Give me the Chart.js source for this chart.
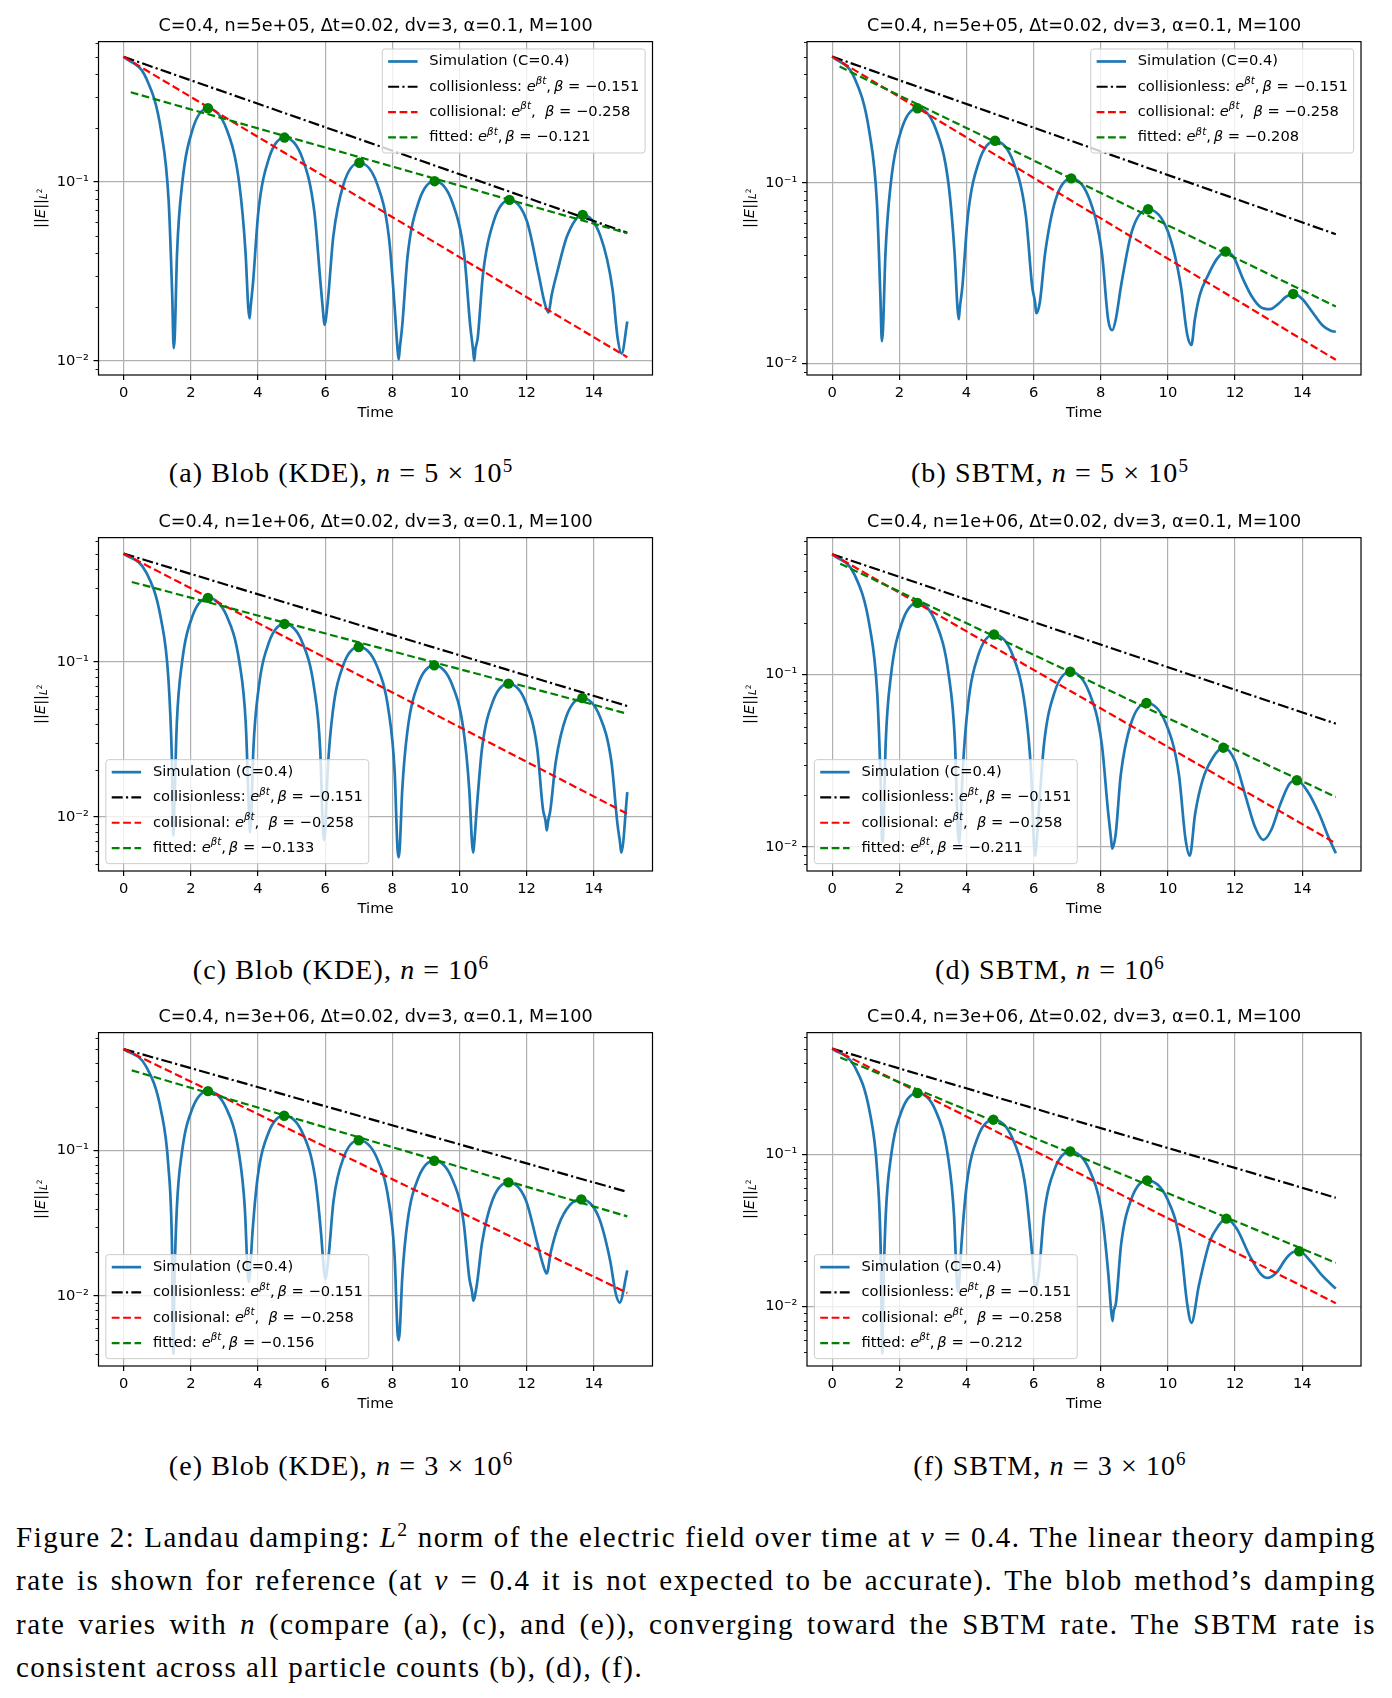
<!DOCTYPE html>
<html>
<head>
<meta charset="utf-8">
<title>Landau damping: L2 norm of E</title>
<script src="https://cdn.jsdelivr.net/npm/chart.js@4.4.1/dist/chart.umd.min.js"></script>
<style>
  html, body { margin: 0; padding: 0; background: #fff; }
  body { position: relative; width: 1392px; height: 1698px; overflow: hidden; }
  .panel { position: absolute; }
  .sub {
    position: absolute; transform: translate(-50%, -50%); white-space: nowrap;
    font-family: "Liberation Serif", "DejaVu Serif", serif; font-size: 28px; letter-spacing: 1.1px; color: #000;
  }
  .sub sup, #figcap sup { font-size: 68%; line-height: 0; }
  #figcap {
    position: absolute; left: 16px; top: 1516px; width: 1360px;
    font-family: "Liberation Serif", "DejaVu Serif", serif; font-size: 29px; line-height: 43.4px;
    letter-spacing: 1.5px; color: #000;
  }
  #figcap .jl { text-align: justify; text-align-last: justify; }
</style>
</head>
<body>

<div class="panel" style="left:0;top:0"><canvas id="chartA" width="696" height="440"></canvas></div>
<div class="panel" style="left:700px;top:0"><canvas id="chartB" width="692" height="440"></canvas></div>
<div class="panel" style="left:0;top:496px"><canvas id="chartC" width="696" height="440"></canvas></div>
<div class="panel" style="left:700px;top:496px"><canvas id="chartD" width="692" height="440"></canvas></div>
<div class="panel" style="left:0;top:991px"><canvas id="chartE" width="696" height="440"></canvas></div>
<div class="panel" style="left:700px;top:991px"><canvas id="chartF" width="692" height="440"></canvas></div>

<div class="sub" style="left:341px;top:473px">(a) Blob (KDE), <i>n</i> = 5 × 10<sup>5</sup></div>
<div class="sub" style="left:1050px;top:473px">(b) SBTM, <i>n</i> = 5 × 10<sup>5</sup></div>
<div class="sub" style="left:341px;top:970px">(c) Blob (KDE), <i>n</i> = 10<sup>6</sup></div>
<div class="sub" style="left:1050px;top:970px">(d) SBTM, <i>n</i> = 10<sup>6</sup></div>
<div class="sub" style="left:341px;top:1466px">(e) Blob (KDE), <i>n</i> = 3 × 10<sup>6</sup></div>
<div class="sub" style="left:1050px;top:1466px">(f) SBTM, <i>n</i> = 3 × 10<sup>6</sup></div>

<div id="figcap">
  <div class="jl">Figure 2: Landau damping: <i>L</i><sup>2</sup> norm of the electric field over time at <i>ν</i> = 0.4. The linear theory damping</div>
  <div class="jl">rate is shown for reference (at <i>ν</i> = 0.4 it is not expected to be accurate). The blob method’s damping</div>
  <div class="jl">rate varies with <i>n</i> (compare (a), (c), and (e)), converging toward the SBTM rate. The SBTM rate is</div>
  <div>consistent across all particle counts (b), (d), (f).</div>
</div>

<script>
// ---- data ----
const xTicks = [0, 2, 4, 6, 8, 10, 12, 14];
const yMajorTicks = [0.01, 0.1];
const yMinorTicks = [0.003, 0.004, 0.005, 0.006, 0.007, 0.008, 0.009,
  0.02, 0.03, 0.04, 0.05, 0.06, 0.07, 0.08, 0.09, 0.2, 0.3, 0.4, 0.5, 0.6];

// theory lines, same in every panel
const theoryT = [0, 15];
const collisionlessV = [0.5, 0.052];
const collisionalV = [0.5, 0.0105];

const titleN = ['5e+05', '5e+05', '1e+06', '1e+06', '3e+06', '3e+06'];
const fittedBeta = ['−0.121', '−0.208', '−0.133', '−0.211', '−0.156', '−0.212'];
const yMin = [0.00835, 0.00865, 0.00449, 0.00726, 0.0033, 0.00405];
const yMax = [0.608, 0.605, 0.634, 0.624, 0.649, 0.637];

// (a) blob, n=5e5
const simT_a = [0, 0.67, 1.12, 1.34, 1.445, 1.49,
  1.52, 1.59, 1.745, 2.05, 2.51, 3.07, 3.44, 3.63, 3.71, 3.75,
  3.78, 3.854, 4.01, 4.32, 4.79, 5.33, 5.68, 5.86, 5.944, 5.98,
  6.084, 6.24, 6.55, 7.02, 7.55, 7.90, 8.07, 8.155, 8.19,
  8.222, 8.297, 8.457, 8.78, 9.26, 9.79, 10.145, 10.32, 10.405, 10.44,
  10.475, 10.545, 10.70, 11.02, 11.49, 12.01, 12.36, 12.53, 12.65,
  12.75, 12.905, 13.21, 13.67, 14.2, 14.56, 14.71, 14.83, 15.0];
const simV_a = [0.5, 0.38, 0.19, 0.078, 0.0235, 0.0118,
  0.0136, 0.0402, 0.0988, 0.196, 0.258, 0.196, 0.0988, 0.0402, 0.0199, 0.0173,
  0.0199, 0.0276, 0.0678, 0.1345, 0.177, 0.1345, 0.0678, 0.0276, 0.0183, 0.0159,
  0.022, 0.049, 0.0973, 0.128, 0.0973, 0.049, 0.020, 0.0117, 0.0102,
  0.0117, 0.0158, 0.0387, 0.0768, 0.101, 0.0768, 0.0387, 0.0158, 0.0116, 0.01005,
  0.0116, 0.0135, 0.0304, 0.0603, 0.0794, 0.0603, 0.0304, 0.0214, 0.0186,
  0.0235, 0.031, 0.05, 0.0655, 0.0498, 0.0251, 0.0135, 0.011, 0.0166];
const peakT_a = [2.51, 4.79, 7.02, 9.26, 11.49, 13.67];
const peakV_a = [0.258, 0.177, 0.128, 0.101, 0.0794, 0.0655];
const fitT_a = [0.21, 15];
const fitV_a = [0.317, 0.0517];

// (b) SBTM, n=5e5
const simT_b = [0, 0.666, 1.11, 1.332, 1.436, 1.48,
  1.512, 1.586, 1.745, 2.063, 2.54, 3.094, 3.463, 3.647, 3.733, 3.77,
  3.80, 3.878, 4.04, 4.364, 4.85, 5.40, 5.77, 5.957, 6.043, 6.08,
  6.184, 6.34, 6.652, 7.12, 7.669, 8.035, 8.218, 8.34,
  8.447, 8.61, 8.93, 9.41, 9.99, 10.378, 10.571, 10.70,
  10.80, 10.95, 11.2, 11.46, 11.72, 11.95, 12.25, 12.5, 12.75, 13.04, 13.3, 13.5, 13.73, 14.0, 14.3, 14.6, 14.85, 15.0];
const simV_b = [0.5, 0.38, 0.19, 0.078, 0.0235, 0.0133,
  0.0153, 0.0404, 0.0992, 0.197, 0.259, 0.197, 0.0992, 0.0404, 0.0202, 0.0176,
  0.0202, 0.0267, 0.0655, 0.130, 0.171, 0.130, 0.0655, 0.0267, 0.0218, 0.019,
  0.0218, 0.0406, 0.0806, 0.106, 0.0806, 0.0406, 0.0176, 0.0153,
  0.0176, 0.0274, 0.0543, 0.0715, 0.0543, 0.0274, 0.0146, 0.0127,
  0.0175, 0.024, 0.031, 0.038, 0.0417, 0.039, 0.029, 0.0235, 0.0206, 0.020, 0.0215, 0.0233, 0.0243, 0.0228, 0.0193, 0.0163, 0.0152, 0.015];
const peakT_b = [2.54, 4.85, 7.12, 9.41, 11.72, 13.73];
const peakV_b = [0.259, 0.171, 0.106, 0.0715, 0.0417, 0.0243];
const fitT_b = [0.22, 15];
const fitV_b = [0.44, 0.0207];

// (c) blob, n=1e6
const simT_c = [0, 0.666, 1.11, 1.332, 1.436, 1.48,
  1.511, 1.583, 1.737, 2.046, 2.51, 3.073, 3.448, 3.635, 3.723, 3.76,
  3.791, 3.863, 4.018, 4.326, 4.79, 5.321, 5.675, 5.852, 5.935, 5.97,
  6.001, 6.073, 6.228, 6.537, 7.0, 7.536, 7.893, 8.071, 8.154, 8.19,
  8.222, 8.296, 8.455, 8.773, 9.25, 9.772, 10.12, 10.294, 10.375, 10.41,
  10.441, 10.515, 10.673, 10.988, 11.46, 11.973, 12.315, 12.486, 12.566, 12.6,
  12.64, 12.706, 12.865, 13.183, 13.66, 14.182, 14.53, 14.704, 14.785, 14.82, 15.0];
const simV_c = [0.5, 0.38, 0.19, 0.078, 0.0235, 0.0076,
  0.0122, 0.0404, 0.0992, 0.197, 0.259, 0.197, 0.0992, 0.0404, 0.0122, 0.008,
  0.0092, 0.0275, 0.0674, 0.1338, 0.176, 0.1338, 0.0674, 0.0275, 0.0083, 0.0071,
  0.0082, 0.0195, 0.0479, 0.095, 0.125, 0.095, 0.0479, 0.0195, 0.0063, 0.0055,
  0.0063, 0.0149, 0.0365, 0.0724, 0.0952, 0.0724, 0.0365, 0.0149, 0.0068, 0.0059,
  0.0068, 0.0113, 0.0278, 0.0551, 0.0725, 0.0551, 0.0278, 0.0113, 0.0094, 0.0082,
  0.0094, 0.011, 0.0224, 0.0445, 0.0586, 0.0445, 0.0224, 0.0091, 0.0068, 0.0059, 0.0145];
const peakT_c = [2.51, 4.79, 7.0, 9.25, 11.46, 13.66];
const peakV_c = [0.259, 0.176, 0.125, 0.0952, 0.0725, 0.0586];
const fitT_c = [0.24, 15];
const fitV_c = [0.328, 0.0464];

// (d) SBTM, n=1e6
const simT_d = [0, 0.666, 1.117, 1.341, 1.445, 1.49,
  1.522, 1.595, 1.753, 2.068, 2.54, 3.098, 3.47, 3.656, 3.743, 3.78,
  3.811, 3.884, 4.04, 4.352, 4.82, 5.374, 5.743, 5.927, 6.013, 6.05,
  6.081, 6.154, 6.31, 6.622, 7.09, 7.653, 8.028, 8.215, 8.303, 8.34,
  8.442, 8.595, 8.901, 9.36, 9.94, 10.328, 10.521, 10.65,
  10.81, 11.03, 11.35, 11.65, 11.99, 12.32, 12.59, 12.84, 13.08, 13.35, 13.62, 13.84, 14.16, 14.49, 14.8, 15.0];
const simV_d = [0.5, 0.38, 0.19, 0.078, 0.0235, 0.0107,
  0.0123, 0.0407, 0.100, 0.198, 0.261, 0.198, 0.100, 0.0407, 0.0123, 0.0105,
  0.0121, 0.0267, 0.0655, 0.130, 0.171, 0.130, 0.0655, 0.0267, 0.0102, 0.0089,
  0.0102, 0.0162, 0.0398, 0.079, 0.104, 0.079, 0.0398, 0.0162, 0.0113, 0.0098,
  0.0118, 0.0262, 0.0521, 0.0685, 0.0521, 0.0262, 0.0112, 0.0089,
  0.0156, 0.0244, 0.0333, 0.0377, 0.0318, 0.0195, 0.0131, 0.011, 0.0126, 0.0178, 0.0233, 0.0244, 0.021, 0.0158, 0.0112, 0.0092];
const peakT_d = [2.54, 4.82, 7.09, 9.36, 11.65, 13.84];
const peakV_d = [0.261, 0.171, 0.104, 0.0685, 0.0377, 0.0244];
const fitT_d = [0.24, 15];
const fitV_d = [0.44, 0.0195];

// (e) blob, n=3e6
const simT_e = [0, 0.666, 1.11, 1.332, 1.436, 1.48,
  1.511, 1.583, 1.737, 2.046, 2.51, 3.059, 3.425, 3.608, 3.693, 3.73,
  3.762, 3.835, 3.993, 4.308, 4.78, 5.329, 5.695, 5.878, 5.963, 6.0,
  6.1, 6.25, 6.55, 7.0, 7.536, 7.893, 8.071, 8.154, 8.19,
  8.222, 8.296, 8.455, 8.773, 9.25, 9.772, 10.12, 10.294, 10.375, 10.41,
  10.515, 10.673, 10.988, 11.46, 11.973, 12.315, 12.486, 12.6,
  12.72, 12.95, 13.28, 13.63, 14.143, 14.485, 14.656, 14.77, 15.0];
const simV_e = [0.5, 0.38, 0.19, 0.078, 0.0235, 0.004,
  0.0121, 0.0401, 0.0984, 0.195, 0.257, 0.195, 0.0984, 0.0401, 0.0144, 0.0125,
  0.0144, 0.0271, 0.0666, 0.132, 0.174, 0.132, 0.0666, 0.0271, 0.0151, 0.0131,
  0.0184, 0.0452, 0.0897, 0.118, 0.0897, 0.0452, 0.0184, 0.0057, 0.00496,
  0.0057, 0.0133, 0.0327, 0.0648, 0.0853, 0.0648, 0.0327, 0.0133, 0.0107, 0.0093,
  0.0118, 0.0232, 0.046, 0.0605, 0.046, 0.0232, 0.0165, 0.0143,
  0.02, 0.0306, 0.042, 0.0462, 0.0351, 0.0177, 0.0104, 0.009, 0.015];
const peakT_e = [2.51, 4.78, 7.0, 9.25, 11.46, 13.63];
const peakV_e = [0.257, 0.174, 0.118, 0.0853, 0.0605, 0.0462];
const fitT_e = [0.24, 15];
const fitV_e = [0.357, 0.0353];

// (f) SBTM, n=3e6
const simT_f = [0, 0.67, 1.12, 1.34, 1.445, 1.49,
  1.522, 1.595, 1.753, 2.068, 2.54, 3.085, 3.448, 3.629, 3.714, 3.75,
  3.782, 3.855, 4.013, 4.328, 4.8, 5.363, 5.738, 5.925, 6.013, 6.05,
  6.154, 6.31, 6.622, 7.09, 7.657, 8.035, 8.224, 8.312, 8.35,
  8.38, 8.453, 8.608, 8.917, 9.38, 9.974, 10.37, 10.568, 10.7,
  10.92, 11.24, 11.51, 11.74, 12.05, 12.43, 12.76, 12.97, 13.24, 13.51, 13.73, 13.91, 14.27, 14.59, 15.0];
const simV_f = [0.5, 0.38, 0.19, 0.078, 0.0235, 0.0049,
  0.012, 0.0398, 0.0977, 0.194, 0.255, 0.194, 0.0977, 0.0398, 0.0144, 0.0125,
  0.0144, 0.0265, 0.0651, 0.129, 0.170, 0.129, 0.0651, 0.0265, 0.015, 0.013,
  0.0164, 0.0402, 0.0798, 0.105, 0.0798, 0.0402, 0.0164, 0.0092, 0.008,
  0.0092, 0.0106, 0.0259, 0.0515, 0.0677, 0.0515, 0.0259, 0.0106, 0.0078,
  0.0137, 0.0265, 0.0342, 0.0379, 0.0325, 0.0217, 0.0164, 0.0154, 0.0168, 0.0206, 0.0228, 0.0231, 0.0196, 0.016, 0.0131];
const peakT_f = [2.54, 4.8, 7.09, 9.38, 11.74, 13.91];
const peakV_f = [0.255, 0.170, 0.105, 0.0677, 0.0379, 0.0231];
const fitT_f = [0.24, 15];
const fitV_f = [0.436, 0.0194];

// ---- styling ----
const FONT = '"DejaVu Sans"';
const FS = 14.7;
const LW = 2.2;       // dashed reference lines
const SIM_LW = 2.7;   // simulation curve
const DASH = [7.8, 3.6];
const DASHDOT = [11, 3.2, 2.2, 3.2];
const BLUE = '#1f77b4', RED = '#ff0000', GREEN = '#008000', BLACK = '#000000';

Chart.defaults.color = '#000';
Chart.defaults.font.family = FONT;

const zip = (t, v) => t.map((x, i) => ({ x: x, y: v[i] }));

// draw a run of text pieces: n normal, i italic, s superscript, b subscript, bs superscript on subscript
function partFont(st, size) {
  if (st === 'i') return `italic ${size}px ${FONT}`;
  if (st === 's' || st === 'b') return `italic ${size * 0.7}px ${FONT}`;
  if (st === 'bs') return `${size * 0.5}px ${FONT}`;
  return `${size}px ${FONT}`;
}
function partShift(st, size) {
  if (st === 's') return -size * 0.36;
  if (st === 'b') return size * 0.22;
  if (st === 'bs') return -size * 0.08;
  return 0;
}
function measureParts(ctx, parts, size) {
  let w = 0;
  for (const [txt, st] of parts) { ctx.font = partFont(st, size); w += ctx.measureText(txt).width; }
  return w;
}
function drawParts(ctx, parts, x, y, size) {
  for (const [txt, st] of parts) {
    ctx.font = partFont(st, size);
    ctx.fillText(txt, x, y + partShift(st, size));
    x += ctx.measureText(txt).width;
  }
  return x;
}

function legendItems(beta) {
  return [
    { color: BLUE, dash: [], width: SIM_LW, parts: [['Simulation (C=0.4)', 'n']] },
    { color: BLACK, dash: DASHDOT, width: LW, parts: [['collisionless: ', 'n'], ['e', 'i'], ['βt', 's'], [',\u2009', 'n'], ['β', 'i'], [' = −0.151', 'n']] },
    { color: RED, dash: DASH, width: LW, parts: [['collisional: ', 'n'], ['e', 'i'], ['βt', 's'], [',  ', 'n'], ['β', 'i'], [' = −0.258', 'n']] },
    { color: GREEN, dash: DASH, width: LW, parts: [['fitted: ', 'n'], ['e', 'i'], ['βt', 's'], [',\u2009', 'n'], ['β', 'i'], [' = ' + beta, 'n']] }
  ];
}

// box, minor ticks, y label and legend in matplotlib style
function mplPlugin(items, corner) {
  return {
    id: 'mpl',
    afterDatasetsDraw(chart) {
      const ctx = chart.ctx, a = chart.chartArea, ys = chart.scales.y;
      ctx.save();
      ctx.strokeStyle = '#000';
      ctx.lineWidth = 0.9;
      for (const v of yMinorTicks) {
        if (v < ys.min || v > ys.max) continue;
        const py = Math.round(ys.getPixelForValue(v)) + 0.5;
        ctx.beginPath(); ctx.moveTo(a.left - 3, py); ctx.lineTo(a.left, py); ctx.stroke();
      }
      ctx.lineWidth = 1.2;
      ctx.strokeRect(a.left, a.top, a.right - a.left, a.bottom - a.top);
      // y label ||E||_{L^2}
      ctx.translate(a.left - 57, (a.top + a.bottom) / 2);
      ctx.rotate(-Math.PI / 2);
      ctx.fillStyle = '#000';
      ctx.textBaseline = 'middle';
      const lab = [['||', 'n'], ['E', 'i'], ['||', 'n'], ['L', 'b'], ['2', 'bs']];
      drawParts(ctx, lab, -measureParts(ctx, lab, FS) / 2, 0, FS);
      ctx.restore();
    },
    afterDraw(chart) {
      const ctx = chart.ctx, a = chart.chartArea;
      ctx.save();
      const pad = 0.4 * FS, handle = 2 * FS, gap = 0.8 * FS;
      let tw = 0;
      for (const it of items) tw = Math.max(tw, measureParts(ctx, it.parts, FS));
      const w = pad + handle + gap + tw + pad, h = 104;
      const x0 = corner === 'ur' ? a.right - 0.5 * FS - w : a.left + 0.5 * FS;
      const y0 = corner === 'ur' ? a.top + 0.5 * FS : a.bottom - 0.5 * FS - h;
      const r = 3;
      ctx.beginPath();
      ctx.moveTo(x0 + r, y0); ctx.lineTo(x0 + w - r, y0); ctx.arcTo(x0 + w, y0, x0 + w, y0 + r, r);
      ctx.lineTo(x0 + w, y0 + h - r); ctx.arcTo(x0 + w, y0 + h, x0 + w - r, y0 + h, r);
      ctx.lineTo(x0 + r, y0 + h); ctx.arcTo(x0, y0 + h, x0, y0 + h - r, r);
      ctx.lineTo(x0, y0 + r); ctx.arcTo(x0, y0, x0 + r, y0, r);
      ctx.closePath();
      ctx.fillStyle = 'rgba(255,255,255,0.8)';
      ctx.fill();
      ctx.strokeStyle = '#cccccc';
      ctx.lineWidth = 1;
      ctx.stroke();
      ctx.textBaseline = 'middle';
      ctx.fillStyle = '#000';
      items.forEach((it, i) => {
        const y = y0 + 12.5 + i * 25.3;
        ctx.save();
        ctx.strokeStyle = it.color;
        ctx.lineWidth = it.width;
        ctx.setLineDash(it.dash);
        ctx.beginPath(); ctx.moveTo(x0 + pad, y); ctx.lineTo(x0 + pad + handle, y); ctx.stroke();
        ctx.restore();
        drawParts(ctx, it.parts, x0 + pad + handle + gap, y, FS);
      });
      ctx.restore();
    }
  };
}

const panels = [
  { id: 'chartA', t: simT_a, v: simV_a, pt: peakT_a, pv: peakV_a, ft: fitT_a, fv: fitV_a, corner: 'ur', axisW: 98.5, padR: 43.5 },
  { id: 'chartB', t: simT_b, v: simV_b, pt: peakT_b, pv: peakV_b, ft: fitT_b, fv: fitV_b, corner: 'ur', axisW: 107, padR: 31 },
  { id: 'chartC', t: simT_c, v: simV_c, pt: peakT_c, pv: peakV_c, ft: fitT_c, fv: fitV_c, corner: 'll', axisW: 98.5, padR: 43.5 },
  { id: 'chartD', t: simT_d, v: simV_d, pt: peakT_d, pv: peakV_d, ft: fitT_d, fv: fitV_d, corner: 'll', axisW: 107, padR: 31 },
  { id: 'chartE', t: simT_e, v: simV_e, pt: peakT_e, pv: peakV_e, ft: fitT_e, fv: fitV_e, corner: 'll', axisW: 98.5, padR: 43.5 },
  { id: 'chartF', t: simT_f, v: simV_f, pt: peakT_f, pv: peakV_f, ft: fitT_f, fv: fitV_f, corner: 'll', axisW: 107, padR: 31 }
];

const decadeLabel = { '-1': '10⁻¹', '-2': '10⁻²' };

panels.forEach((p, k) => {
  new Chart(document.getElementById(p.id), {
    type: 'line',
    data: {
      datasets: [
        { label: 'peaks', data: zip(p.pt, p.pv), showLine: false, pointRadius: 5.2,
          pointBackgroundColor: GREEN, pointBorderWidth: 0, order: 0 },
        { label: 'fitted', data: zip(p.ft, p.fv), borderColor: GREEN, borderDash: DASH,
          borderWidth: LW, pointRadius: 0, order: 1 },
        { label: 'collisional', data: zip(theoryT, collisionalV), borderColor: RED, borderDash: DASH,
          borderWidth: LW, pointRadius: 0, order: 2 },
        { label: 'collisionless', data: zip(theoryT, collisionlessV), borderColor: BLACK, borderDash: DASHDOT,
          borderWidth: LW, pointRadius: 0, order: 3 },
        { label: 'Simulation (C=0.4)', data: zip(p.t, p.v), borderColor: BLUE, borderWidth: SIM_LW,
          pointRadius: 0, cubicInterpolationMode: 'monotone', order: 4 }
      ]
    },
    options: {
      responsive: false,
      animation: false,
      events: [],
      layout: { padding: { left: 0, right: p.padR, top: 0, bottom: 0 } },
      plugins: {
        legend: { display: false },
        tooltip: { enabled: false },
        title: {
          display: true, fullSize: false,
          text: `C=0.4, n=${titleN[k]}, Δt=0.02, dv=3, α=0.1, M=100`,
          font: { size: 17.6, weight: 'normal', family: FONT },
          padding: { top: 15.5, bottom: 5 }
        }
      },
      scales: {
        x: {
          type: 'linear', min: -0.75, max: 15.75,
          afterBuildTicks: s => { s.ticks = xTicks.map(v => ({ value: v })); },
          afterFit: s => { s.height = 65; },
          ticks: { font: { size: FS }, padding: 4, maxRotation: 0, callback: v => String(v) },
          grid: { color: '#b0b0b0', lineWidth: 1.2, tickColor: '#000', tickLength: 5 },
          border: { display: false },
          title: { display: true, text: 'Time', font: { size: FS }, padding: { top: 0, bottom: 18.3 } }
        },
        y: {
          type: 'logarithmic', min: yMin[k], max: yMax[k],
          afterBuildTicks: s => { s.ticks = yMajorTicks.map(v => ({ value: v })); },
          afterFit: s => { s.width = p.axisW; },
          ticks: { font: { size: FS }, padding: 4.5,
            callback: v => decadeLabel[String(Math.round(Math.log10(v)))] || '' },
          grid: { color: '#b0b0b0', lineWidth: 1.2, tickColor: '#000', tickLength: 5 },
          border: { display: false }
        }
      }
    },
    plugins: [mplPlugin(legendItems(fittedBeta[k]), p.corner)]
  });
});
</script>
</body>
</html>
